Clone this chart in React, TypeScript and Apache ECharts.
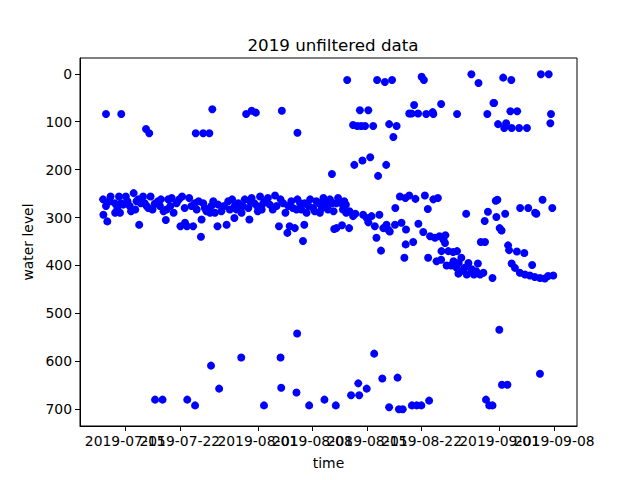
import React, { useEffect, useRef } from 'react';
import * as echarts from 'echarts';

// readings as ['MM-DD HH', water level], all in 2019
const highReadings: [string, number][] = [
  ['07-12 13', 84], ['07-14 12', 84], ['07-17 16', 115], ['07-18 02', 124], ['07-24 01', 124],
  ['07-25 00', 124], ['07-25 19', 124], ['07-26 04', 74], ['07-30 12', 84], ['07-31 05', 77],
  ['07-31 18', 81], ['08-04 02', 77], ['08-06 02', 123],
  ['08-12 11', 13], ['08-16 07', 13], ['08-17 07', 17], ['08-18 05', 13], ['08-22 00', 6],
  ['08-22 07', 13], ['08-28 09', 1], ['08-29 07', 19], ['09-01 11', 8], ['09-02 12', 13],
  ['09-06 07', 1], ['09-07 07', 1],
  ['08-14 02', 76], ['08-15 04', 76], ['08-13 05', 107], ['08-13 18', 109], ['08-14 06', 109],
  ['08-14 18', 109], ['08-15 19', 109], ['08-17 20', 105], ['08-18 19', 109], ['08-18 09', 132],
  ['08-21 01', 65], ['08-20 10', 83], ['08-20 17', 83], ['08-21 13', 83], ['08-22 14', 84],
  ['08-23 10', 80], ['08-23 12', 84], ['08-24 12', 63], ['08-26 13', 84], ['08-30 10', 84],
  ['08-31 05', 61], ['08-31 07', 61], ['08-31 19', 105], ['09-01 20', 103], ['09-01 14', 113],
  ['09-02 09', 78], ['09-03 06', 78], ['09-02 13', 113], ['09-03 12', 113], ['09-04 12', 113],
  ['09-07 14', 84], ['09-07 12', 103],
  ['08-10 12', 209], ['08-13 09', 190], ['08-14 10', 181], ['08-15 10', 174], ['08-17 11', 190],
  ['08-16 10', 213],
];

const lowReadings: [string, number][] = [
  ['07-18 20', 680], ['07-19 19', 680], ['07-22 23', 680], ['07-23 23', 692], ['07-26 00', 609],
  ['07-27 01', 657], ['07-29 21', 592], ['08-01 19', 692], ['08-03 22', 592], ['08-04 00', 655],
  ['08-06 01', 542], ['08-05 23', 665], ['08-07 14', 692], ['08-09 13', 680],
  ['08-11 00', 692], ['08-12 23', 671], ['08-14 00', 671], ['08-13 21', 646], ['08-14 23', 657],
  ['08-15 22', 584], ['08-16 23', 636], ['08-17 20', 696], ['08-18 22', 634], ['08-19 02', 700],
  ['08-19 14', 700], ['08-20 18', 692], ['08-21 09', 692], ['08-21 23', 692], ['08-22 23', 682],
  ['08-30 06', 680], ['08-30 16', 692], ['08-31 02', 692], ['08-31 23', 534], ['09-01 07', 649],
  ['09-02 00', 649], ['09-06 04', 626],
];

const bandReadings: [string, number][] = [
  ['07-12 04', 262], ['07-12 13', 276], ['07-12 05', 294], ['07-12 17', 308], ['07-13 03', 256],
  ['07-13 16', 270], ['07-13 17', 290], ['07-14 05', 256], ['07-14 18', 273], ['07-14 08', 290],
  ['07-15 02', 256], ['07-15 14', 276], ['07-16 02', 249], ['07-16 16', 262], ['07-16 19', 315],
  ['07-17 07', 256], ['07-17 18', 276], ['07-18 06', 256], ['07-18 19', 271], ['07-19 11', 276],
  ['07-20 05', 305], ['07-20 07', 283], ['07-21 05', 290], ['07-22 07', 256], ['07-22 16', 311],
  ['07-23 17', 318],
  ['07-14 11', 270], ['07-15 18', 287], ['07-16 11', 266], ['07-17 12', 270], ['07-17 23', 280],
  ['07-19 05', 266], ['07-19 22', 287], ['07-20 12', 262], ['07-20 23', 259], ['07-21 14', 270],
  ['07-22 02', 318], ['07-22 15', 280], ['07-22 22', 318], ['07-23 05', 259], ['07-23 22', 270],
  ['07-24 04', 283], ['07-24 17', 340], ['07-24 19', 304], ['07-25 00', 270], ['07-25 10', 287],
  ['07-25 21', 290], ['07-26 07', 266], ['07-26 12', 290], ['07-26 20', 318],
  ['07-26 22', 273], ['07-27 08', 287], ['07-28 00', 315], ['07-28 05', 266], ['07-28 10', 283],
  ['07-29 00', 301], ['07-29 01', 276], ['07-29 12', 270], ['07-29 22', 290], ['07-30 08', 262],
  ['07-30 19', 280], ['07-30 22', 304], ['07-31 05', 259], ['07-31 13', 270], ['08-01 00', 287],
  ['08-01 07', 256], ['08-01 17', 270], ['08-02 07', 259], ['08-02 13', 273], ['08-03 05', 254],
  ['08-03 10', 276], ['08-03 17', 318], ['08-04 06', 270], ['08-04 13', 290], ['08-04 19', 332],
  ['08-05 02', 318], ['08-05 07', 266], ['08-05 18', 322], ['08-05 23', 283], ['08-06 10', 270],
  ['08-06 19', 349], ['08-06 23', 315], ['08-07 06', 290], ['08-07 17', 262], ['08-08 02', 280],
  ['08-08 12', 266], ['08-08 23', 290], ['08-09 10', 259], ['08-09 19', 276], ['08-10 06', 262],
  ['08-10 17', 287], ['08-10 19', 324], ['08-11 02', 270],
  ['07-13 00', 266], ['07-14 00', 280], ['07-15 07', 266], ['07-16 07', 283], ['07-17 00', 270],
  ['07-18 12', 283], ['07-19 14', 262], ['07-20 19', 276], ['07-21 22', 262], ['07-23 12', 276],
  ['07-24 10', 266], ['07-25 05', 280], ['07-26 01', 276], ['07-27 17', 276], ['07-28 17', 262],
  ['07-29 07', 283], ['07-30 02', 276], ['07-31 00', 266], ['07-31 22', 276], ['08-01 12', 283],
  ['08-02 00', 266], ['08-02 22', 283], ['08-03 22', 262], ['08-04 22', 276], ['08-05 12', 280],
  ['08-06 02', 262], ['08-06 14', 283], ['08-07 00', 270], ['08-07 12', 276], ['08-08 07', 287],
  ['08-08 19', 270], ['08-09 05', 280], ['08-09 14', 266], ['08-10 00', 283], ['08-10 12', 270],
];

const driftReadings: [string, number][] = [
  ['08-11 07', 259], ['08-11 17', 270], ['08-12 02', 266], ['08-12 07', 273], ['08-11 02', 322],
  ['08-11 19', 316], ['08-12 17', 322], ['08-12 18', 287], ['08-13 05', 297], ['08-13 12', 292],
  ['08-11 22', 283], ['08-12 08', 290],
  ['08-14 12', 294], ['08-14 23', 301], ['08-15 04', 310], ['08-15 14', 297], ['08-16 00', 318],
  ['08-16 05', 342], ['08-16 14', 294], ['08-16 19', 369], ['08-17 02', 322], ['08-17 12', 315],
  ['08-17 17', 325], ['08-17 22', 329], ['08-18 14', 315], ['08-18 15', 280], ['08-19 05', 256],
  ['08-19 10', 311], ['08-19 22', 259], ['08-19 23', 356], ['08-20 00', 325], ['08-19 19', 384],
  ['08-20 10', 254], ['08-20 22', 351], ['08-21 05', 261], ['08-21 14', 313], ['08-22 05', 330],
  ['08-22 10', 254], ['08-22 19', 282], ['08-22 20', 384], ['08-23 02', 339], ['08-23 12', 262],
  ['08-23 22', 391], ['08-24 02', 259], ['08-23 17', 342], ['08-24 07', 339], ['08-24 12', 388],
  ['08-24 19', 346], ['08-25 00', 353], ['08-25 01', 337], ['08-24 13', 370], ['08-25 10', 370],
  ['08-26 01', 372], ['08-25 05', 400], ['08-25 19', 400], ['08-26 02', 391], ['08-26 12', 405],
  ['08-26 17', 417],
  ['08-27 17', 292], ['08-30 12', 288], ['08-30 02', 307], ['08-31 12', 265], ['08-31 17', 263],
  ['08-31 14', 299], ['09-01 17', 292], ['09-01 00', 322], ['09-01 06', 327], ['08-29 14', 351],
  ['08-30 03', 351], ['09-03 15', 280], ['09-04 16', 280], ['09-05 13', 290], ['09-05 17', 292],
  ['09-06 12', 263], ['09-07 18', 280],
  ['09-02 02', 358], ['09-02 05', 368], ['09-03 05', 371], ['09-04 04', 374], ['09-05 04', 399],
  ['09-02 13', 396], ['09-02 23', 405], ['09-03 14', 415], ['09-04 06', 419], ['09-04 21', 421],
  ['09-05 12', 424], ['09-06 04', 426], ['09-06 19', 427], ['09-07 05', 422], ['09-07 21', 421],
  ['08-26 13', 370], ['08-27 02', 384], ['08-26 18', 395], ['08-28 00', 395], ['08-29 05', 396],
  ['08-27 12', 405], ['08-28 10', 408], ['08-29 00', 412], ['08-29 22', 415], ['08-27 00', 412],
  ['08-27 19', 419], ['08-28 17', 419], ['08-29 12', 419], ['08-31 02', 426],
];

const xTickDates = ['07-15', '07-22', '08-01', '08-08', '08-15', '08-22', '09-01', '09-08'];
const yTicks = [0, 100, 200, 300, 400, 500, 600, 700];

const toTime = (s: string) => {
  const [md, hh] = s.split(' ');
  const [m, d] = md.split('-').map(Number);
  return Date.UTC(2019, m - 1, d, hh ? Number(hh) : 0);
};

const pad = (n: number) => (n < 10 ? '0' + n : '' + n);

const dateLabel = (v: number) => {
  const d = new Date(v);
  return `${d.getUTCFullYear()}-${pad(d.getUTCMonth() + 1)}-${pad(d.getUTCDate())}`;
};

const App: React.FC = () => {
  const chartRef = useRef<HTMLDivElement>(null);

  useEffect(() => {
    if (!chartRef.current) return;
    const chart = echarts.init(chartRef.current, undefined, { renderer: 'svg' });

    const points = [...bandReadings, ...driftReadings, ...highReadings, ...lowReadings].map(
      ([t, v]) => [toTime(t), v]
    );
    const tickTimes = xTickDates.map((d) => toTime(d));
    // labels overlap like the original; split across two axes so none is dropped
    const evenTicks = tickTimes.filter((_, i) => i % 2 === 0);
    const oddTicks = tickTimes.filter((_, i) => i % 2 === 1);
    const font = 'DejaVu Sans';
    const xMin = Date.UTC(2019, 6, 9, 5);
    const xMax = Date.UTC(2019, 8, 10, 22);

    const labelStyle = {
      margin: 8,
      fontFamily: font,
      fontSize: 13.9,
      color: '#000',
      hideOverlap: false,
      showMinLabel: true,
      showMaxLabel: true,
      formatter: dateLabel,
    };

    chart.setOption({
      animation: false,
      textStyle: { fontFamily: font },
      title: {
        text: '2019 unfiltered data',
        left: 328,
        top: 31,
        textAlign: 'center',
        textStyle: { fontFamily: font, fontSize: 16.7, fontWeight: 'normal', color: '#000' },
      },
      grid: { left: 80, right: 63, top: 58, bottom: 54, show: true, borderColor: '#000', borderWidth: 1 },
      xAxis: [
        {
          type: 'value',
          min: xMin,
          max: xMax,
          position: 'bottom',
          name: 'time',
          nameLocation: 'middle',
          nameGap: 30,
          nameTextStyle: { fontFamily: font, fontSize: 13.9, color: '#000' },
          axisLine: { show: true, onZero: false, lineStyle: { color: '#000', width: 1 } },
          axisTick: { show: true, length: 5, customValues: tickTimes, lineStyle: { color: '#000' } },
          axisLabel: { ...labelStyle, customValues: evenTicks },
          splitLine: { show: false },
        },
        {
          type: 'value',
          min: xMin,
          max: xMax,
          position: 'bottom',
          offset: 0,
          axisLine: { show: false },
          axisTick: { show: false },
          axisLabel: { ...labelStyle, customValues: oddTicks },
          splitLine: { show: false },
        },
      ],
      yAxis: {
        type: 'value',
        inverse: true,
        min: -33,
        max: 735,
        name: 'water level',
        nameLocation: 'middle',
        nameGap: 44,
        nameTextStyle: { fontFamily: font, fontSize: 13.9, color: '#000' },
        axisLine: { show: true, onZero: false, lineStyle: { color: '#000', width: 1 } },
        axisTick: { show: true, length: 5, customValues: yTicks, lineStyle: { color: '#000' } },
        axisLabel: {
          customValues: yTicks,
          margin: 8,
          fontFamily: font,
          fontSize: 13.9,
          color: '#000',
          showMinLabel: true,
          showMaxLabel: true,
        },
        splitLine: { show: false },
      },
      series: [
        {
          type: 'scatter',
          xAxisIndex: 0,
          data: points,
          symbolSize: 8,
          itemStyle: { color: '#0000ff', opacity: 1 },
        },
      ],
    });

    return () => chart.dispose();
  }, []);

  return (
    <div
      ref={chartRef}
      style={{ position: 'absolute', left: 0, top: 0, width: 640, height: 480, background: '#fff' }}
    />
  );
};

export default App;
